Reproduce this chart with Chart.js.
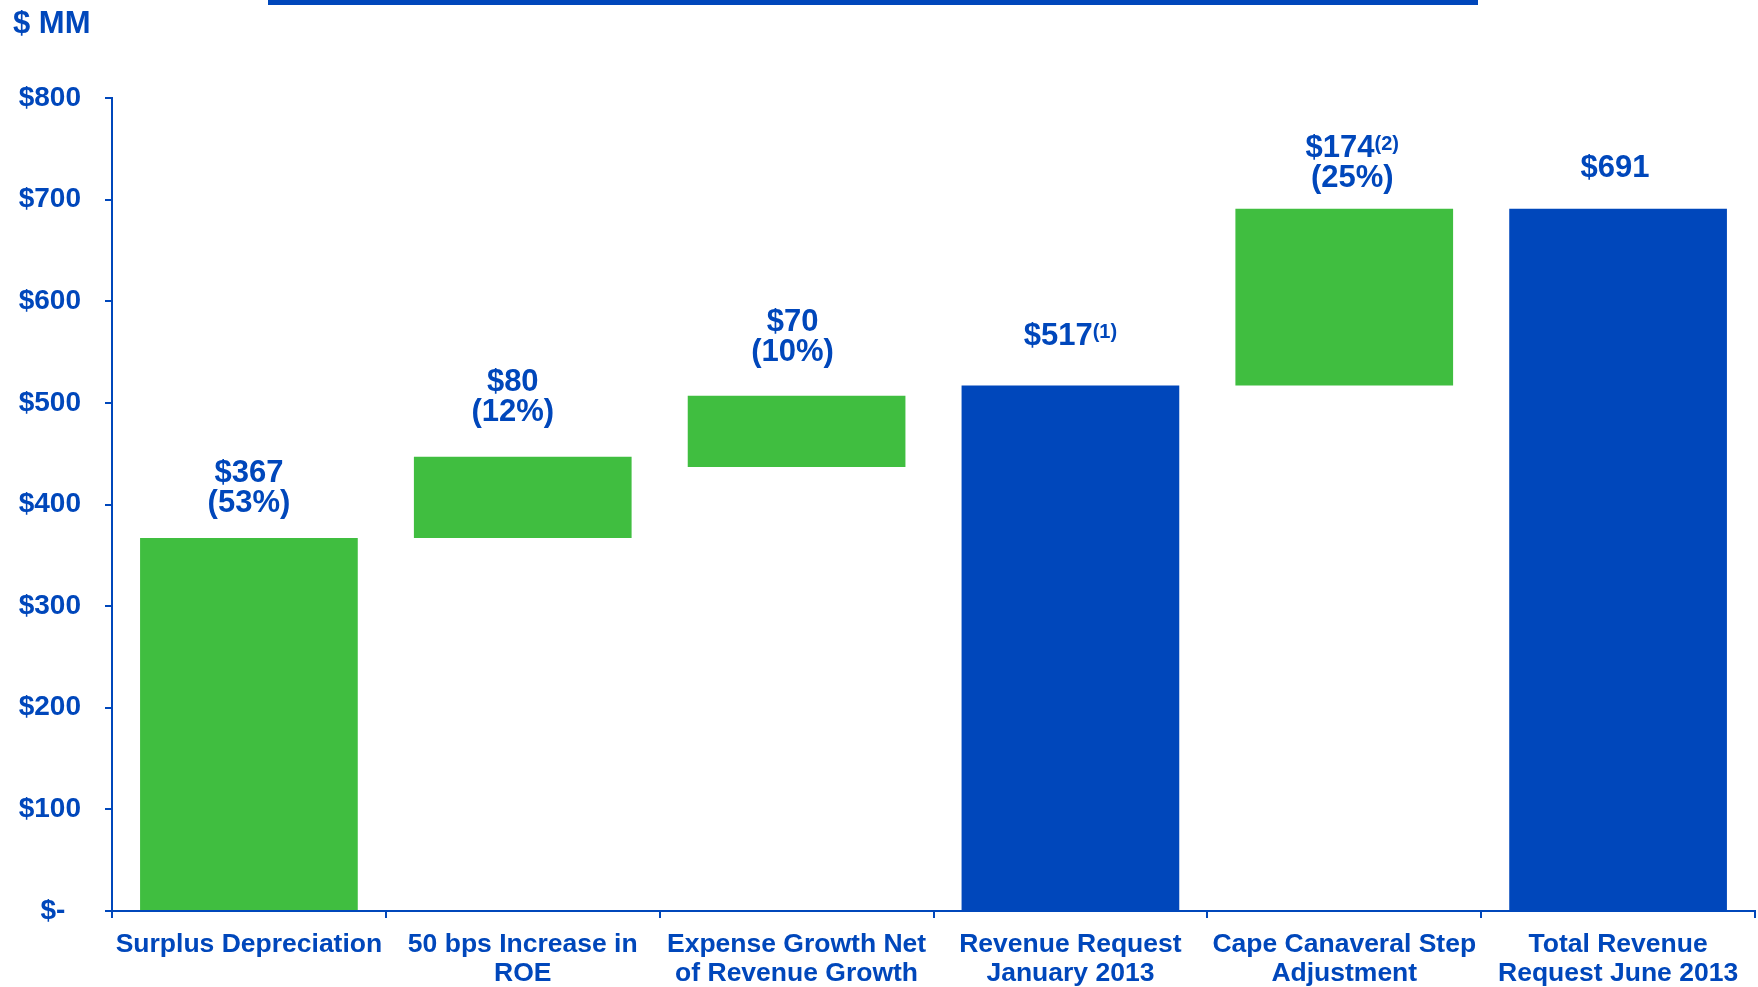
<!DOCTYPE html>
<html>
<head>
    <meta charset="UTF-8">
    <title>Revenue Request Walk</title>
    <script src="https://cdn.jsdelivr.net/npm/chart.js@4.4.1/dist/chart.umd.min.js"></script>
    <style>
        body { margin: 0; background: #fff; }
        #wrap { position: relative; width: 1758px; height: 987px; }
        #topRule { position: absolute; left: 268px; top: 0; width: 1210px; height: 5px; background: #0047BB; }
    </style>
</head>
<body>
    <div id="wrap">
        <div id="topRule"></div>
        <canvas id="chart"></canvas>
    </div>

    <script>
        // bar categories (multi-line axis labels)
        var categories = [
            ['Surplus Depreciation'],
            ['50 bps Increase in', 'ROE'],
            ['Expense Growth Net', 'of Revenue Growth'],
            ['Revenue Request', 'January 2013'],
            ['Cape Canaveral Step', 'Adjustment'],
            ['Total Revenue', 'Request June 2013']
        ];
        // where each bar starts and how much it adds ($ MM)
        var barStart = [0, 367, 437, 0, 517, 0];
        var barAmount = [367, 80, 70, 517, 174, 691];
        var barShare = ['53%', '12%', '10%', '', '25%', ''];
        var barNote = ['', '', '', '1', '2', ''];
        var isTotal = [false, false, false, true, false, true];
        var yTicks = [0, 100, 200, 300, 400, 500, 600, 700, 800];

        var BLUE = '#0047BB';
        var GREEN = '#40BE40';
        var FONT = "'Liberation Sans', Arial, sans-serif";

        // value labels above bars, with optional footnote marker
        var valueLabels = {
            id: 'valueLabels',
            afterDatasetsDraw: function(chart, args, opts) {
                var ctx = chart.ctx;
                var meta = chart.getDatasetMeta(0);
                ctx.save();
                ctx.fillStyle = BLUE;
                ctx.textBaseline = 'alphabetic';
                ctx.textAlign = 'left';
                meta.data.forEach(function(bar, i) {
                    var x = bar.x + opts.dx[i];
                    var y = bar.y - opts.gap[i];
                    var mainFont = 'bold 31px ' + FONT;
                    var supFont = 'bold 20px ' + FONT;
                    if (barShare[i]) {
                        ctx.font = mainFont;
                        var share = '(' + barShare[i] + ')';
                        ctx.fillText(share, x - ctx.measureText(share).width / 2, y);
                        y -= 30;
                    }
                    var main = '$' + barAmount[i];
                    var note = barNote[i] ? '(' + barNote[i] + ')' : '';
                    ctx.font = mainFont;
                    var wMain = ctx.measureText(main).width;
                    ctx.font = supFont;
                    var wSup = note ? ctx.measureText(note).width : 0;
                    var left = x - (wMain + wSup) / 2;
                    ctx.font = mainFont;
                    ctx.fillText(main, left, y);
                    if (note) {
                        ctx.font = supFont;
                        ctx.fillText(note, left + wMain, y - 7);
                    }
                });
                // unit caption
                ctx.font = 'bold 31px ' + FONT;
                ctx.fillText('$ MM', 13, 33);
                ctx.restore();
            }
        };

        var ctx = document.getElementById('chart').getContext('2d');
        var myChart = new Chart(ctx, {
            type: 'bar',
            data: {
                labels: categories,
                datasets: [{
                    data: barStart.map(function(s, i) { return [s, s + barAmount[i]]; }),
                    backgroundColor: isTotal.map(function(t) { return t ? BLUE : GREEN; }),
                    borderWidth: 0,
                    borderSkipped: false,
                    categoryPercentage: 1,
                    barPercentage: 0.795
                }]
            },
            options: {
                responsive: true,
                maintainAspectRatio: false,
                animation: false,
                layout: { padding: { top: 98, right: 3, bottom: 0, left: 0 } },
                plugins: {
                    legend: { display: false },
                    tooltip: { enabled: false },
                    valueLabels: {
                        gap: [26, 36, 35, 41, 22, 32],
                        dx: [0, -10, -4, 0, 8, -3]
                    }
                },
                scales: {
                    x: {
                        grid: {
                            offset: true,
                            drawOnChartArea: false,
                            drawTicks: true,
                            tickLength: 7,
                            color: BLUE,
                            lineWidth: 2
                        },
                        border: { color: BLUE, width: 2 },
                        ticks: {
                            color: BLUE,
                            font: { family: FONT, size: 26.5, weight: 'bold', lineHeight: 1.11 },
                            padding: 12,
                            maxRotation: 0,
                            autoSkip: false
                        },
                        afterFit: function(scale) { scale.height = 76; }
                    },
                    y: {
                        min: yTicks[0],
                        max: yTicks[yTicks.length - 1],
                        afterBuildTicks: function(scale) {
                            scale.ticks = yTicks.map(function(v) { return { value: v }; });
                        },
                        grid: {
                            drawOnChartArea: false,
                            drawTicks: true,
                            tickLength: 7,
                            color: BLUE,
                            lineWidth: 2
                        },
                        border: { color: BLUE, width: 2 },
                        ticks: {
                            color: BLUE,
                            font: { family: FONT, size: 28, weight: 'bold' },
                            padding: 24,
                            callback: function(v) { return v === 0 ? '$-  ' : '$' + v; }
                        },
                        afterFit: function(scale) { scale.width = 112; }
                    }
                }
            },
            plugins: [valueLabels]
        });
    </script>
</body>
</html>
